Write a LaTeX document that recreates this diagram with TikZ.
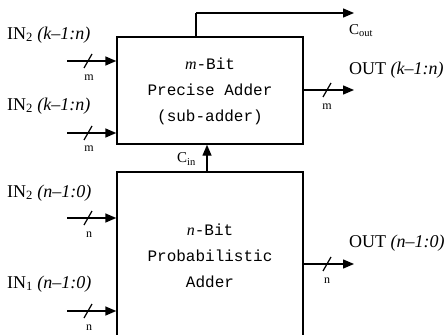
\documentclass[tikz,border=0pt]{standalone}
\usepackage{fontspec}
\setmainfont{Liberation Serif}
\newfontfamily\boxfont{Liberation Mono}
\usetikzlibrary{arrows.meta,calc}
\begin{document}
\begin{tikzpicture}[x=1pt,y=-1pt,
 wire/.style={line width=1.4pt,-{Triangle[length=11pt,width=9pt]}},
 plain/.style={line width=1.4pt},
 slash/.style={line width=1.2pt},
 blk/.style={draw,line width=1.4pt,inner sep=0pt},
 lbl/.style={font=\fontsize{18}{18}\selectfont,inner sep=0pt,anchor=west},
 bus/.style={font=\fontsize{12}{12}\selectfont,inner sep=0pt},
 boxtxt/.style={font=\boxfont\fontsize{16}{26}\selectfont,align=center,inner sep=0pt}]
\useasboundingbox (0,0) rectangle (446,334);
\clip (0,0) rectangle (446,334);
% blocks
\node[blk,minimum width=186pt,minimum height=107pt] (up) at (210,90.5) {};
\node[blk,minimum width=186pt,minimum height=190pt] (lo) at (210,267) {};
\node[boxtxt] (uptxt) at (210,91) {{\rmfamily\itshape m}-Bit\\Precise Adder\\(sub-adder)};
\node[boxtxt] (lotxt) at (210,256) {{\rmfamily\itshape n}-Bit\\Probabilistic\\Adder};
% upper inputs
\coordinate (a1) at (67,61);
\coordinate (a2) at (67,133);
\draw[wire] (a1) -- (a1 -| up.west);
\draw[wire] (a2) -- (a2 -| up.west);
\draw[slash] ($(a1)+(17,7)$) -- ($(a1)+(25,-7)$);
\draw[slash] ($(a2)+(17,7)$) -- ($(a2)+(25,-7)$);
\node[bus] (ma1) at (89,78) {m};
\node[bus] (ma2) at (89,149) {m};
\node[lbl] (la1) at (7,35) {IN\textsubscript{2} \textit{(k–1:n)}};
\node[lbl] (la2) at (7,106) {IN\textsubscript{2} \textit{(k–1:n)}};
% lower inputs
\coordinate (b1) at (67,218);
\coordinate (b2) at (67,311);
\draw[wire] (b1) -- (b1 -| lo.west);
\draw[wire] (b2) -- (b2 -| lo.west);
\draw[slash] ($(b1)+(17,7)$) -- ($(b1)+(25,-7)$);
\draw[slash] ($(b2)+(17,7)$) -- ($(b2)+(25,-7)$);
\node[bus] (nb1) at (89,235) {n};
\node[bus] (nb2) at (89,328) {n};
\node[lbl] (lb1) at (7,193) {IN\textsubscript{2} \textit{(n–1:0)}};
\node[lbl] (lb2) at (7,284) {IN\textsubscript{1} \textit{(n–1:0)}};
% outputs
\coordinate (o1) at (354,90);
\coordinate (o2) at (354,264);
\draw[wire] (o1 -| up.east) -- (o1);
\draw[wire] (o2 -| lo.east) -- (o2);
\draw[slash] ($(o1)+(-31,7)$) -- ($(o1)+(-23,-7)$);
\draw[slash] ($(o2)+(-31,7)$) -- ($(o2)+(-23,-7)$);
\node[bus] (mo) at (327,107) {m};
\node[bus] (no) at (327,281) {n};
\node[lbl] (lo1) at (349,70) {OUT \textit{(k–1:n)}};
\node[lbl] (lo2) at (349,243) {OUT \textit{(n–1:0)}};
% carry out
\coordinate (c1) at (196,13);
\coordinate (c2) at (354,13);
\draw[plain] (c1 |- up.north) -- (c1);
\draw[wire] (c1) -- (c2);
\node[lbl,font=\fontsize{15}{15}\selectfont] (cout) at (349,31) {C\textsubscript{out}};
% carry in
\coordinate (ci) at (207,0);
\draw[wire] (ci |- lo.north) -- (ci |- up.south);
\node[lbl,font=\fontsize{15}{15}\selectfont] (cin) at (177,159) {C\textsubscript{in}};
\end{tikzpicture}
\end{document}
